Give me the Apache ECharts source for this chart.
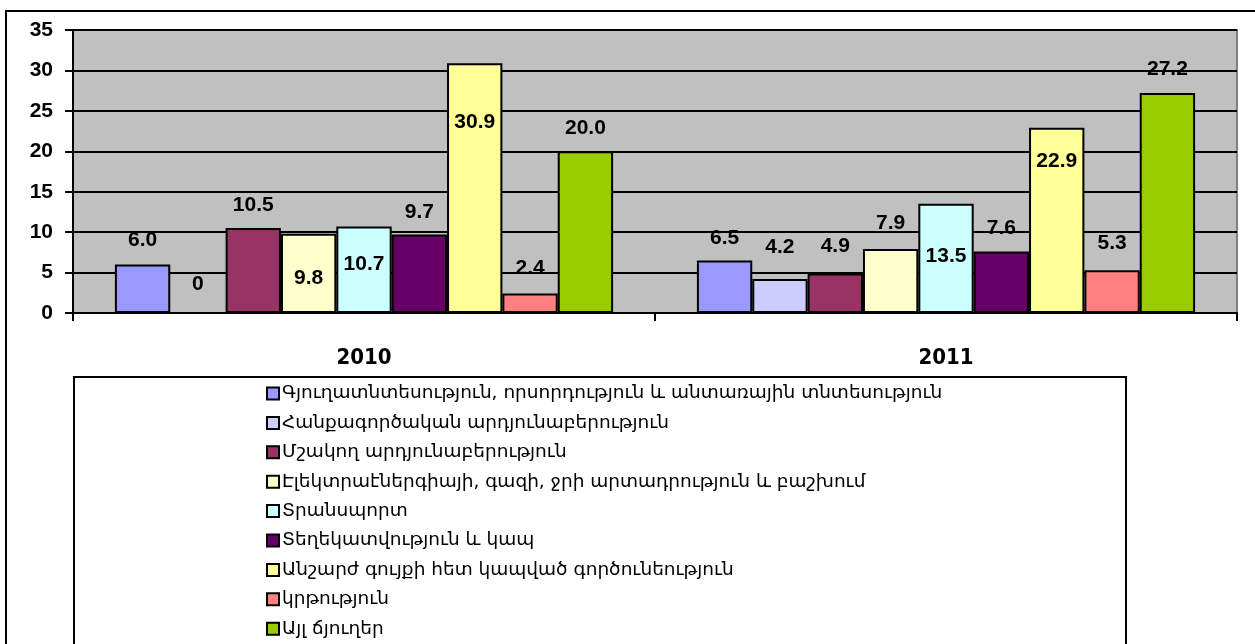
<!DOCTYPE html>
<html>
<head>
<meta charset="utf-8">
<script src="https://cdn.jsdelivr.net/npm/echarts@6/dist/echarts.min.js"></script>
<style>
  html, body { margin: 0; padding: 0; background: #fff; }
  #chart { width: 1255px; height: 644px; }
</style>
</head>
<body>
<div id="chart"></div>
<script>
let chart = echarts.init(document.querySelector('#chart'));

// data
let years = ['2010', '2011'];
let sectorNames = [
  'Գյուղատնտեսություն, որսորդություն և անտառային տնտեսություն',
  'Հանքագործական արդյունաբերություն',
  'Մշակող արդյունաբերություն',
  'Էլեկտրաէներգիայի, գազի, ջրի արտադրություն և բաշխում',
  'Տրանսպորտ',
  'Տեղեկատվություն և կապ',
  'Անշարժ գույքի հետ կապված գործունեություն',
  'կրթություն',
  'Այլ ճյուղեր'
];
let values2010 = [6.0, 0, 10.5, 9.8, 10.7, 9.7, 30.9, 2.4, 20.0];
let values2011 = [6.5, 4.2, 4.9, 7.9, 13.5, 7.6, 22.9, 5.3, 27.2];
let yTicks = { min: 0, max: 35, step: 5 };

// styles
let colors = ['#9999FF', '#CCCCFF', '#993366', '#FFFFCC', '#CCFFFF', '#660066', '#FFFF99', '#FF8080', '#99CC00'];
// vertical shift of each value label (2010, 2011), as in the original picture
let labelShift = [
  [-10, -8], [-14, -18], [-9, -13], [58, -12], [52, 66],
  [-8, -9], [73, 47], [-11, -13], [-9, -10]
];

let series = sectorNames.map((name, i) => {
  let vals = [values2010[i], values2011[i]];
  return {
    name: name,
    type: 'bar',
    barGap: '0%',
    barCategoryGap: '14.4%',
    itemStyle: { color: colors[i], borderColor: '#000', borderWidth: 2 },
    data: vals.map((v, j) => ({
      value: v,
      label: { offset: [0, labelShift[i][j]] }
    })),
    label: {
      show: true,
      position: 'top',
      distance: 5,
      color: '#000',
      fontFamily: 'Liberation Sans, Arial',
      fontWeight: 'bold',
      fontSize: 21,
      lineHeight: 18,
      formatter: p => p.value === 0 ? '0' : p.value.toFixed(1)
    }
  };
});

let option = {
  animation: false,
  grid: {
    left: 73, right: 18, top: 30, bottom: 331,
    show: true,
    backgroundColor: '#C0C0C0',
    borderColor: '#808080',
    borderWidth: 2
  },
  xAxis: {
    type: 'category',
    data: years,
    axisLine: { lineStyle: { color: '#000', width: 2 } },
    axisTick: { show: true, length: 8, lineStyle: { color: '#000', width: 2 } },
    axisLabel: {
      margin: 34,
      color: '#000',
      fontFamily: 'DejaVu Sans Condensed, DejaVu Sans',
      fontWeight: 'bold',
      fontSize: 22
    }
  },
  yAxis: {
    type: 'value',
    min: yTicks.min,
    max: yTicks.max,
    interval: yTicks.step,
    axisLine: { show: true, lineStyle: { color: '#000', width: 2 } },
    axisTick: { show: true, length: 8, lineStyle: { color: '#000', width: 2 } },
    splitLine: { lineStyle: { color: '#000', width: 2 } },
    axisLabel: {
      margin: 20,
      color: '#000',
      fontFamily: 'Liberation Sans, Arial',
      fontWeight: 'bold',
      fontSize: 21
    }
  },
  legend: {
    orient: 'vertical',
    left: 261,
    top: 379,
    height: 400,
    icon: 'rect',
    itemWidth: 12,
    itemHeight: 12,
    itemGap: 10.4,
    itemStyle: { borderColor: '#000', borderWidth: 2 },
    textStyle: {
      color: '#000',
      fontFamily: 'DejaVu Sans',
      fontSize: 18.5,
      lineHeight: 18,
      padding: [0, 0, 0, -2]
    },
    data: sectorNames
  },
  graphic: [
    {
      type: 'rect',
      shape: { x: 6, y: 11, width: 1256, height: 700 },
      style: { fill: null, stroke: '#000', lineWidth: 2 },
      z: -1
    },
    {
      type: 'rect',
      shape: { x: 74, y: 377, width: 1052, height: 300 },
      style: { fill: null, stroke: '#000', lineWidth: 2 }
    }
  ],
  series: series
};

chart.setOption(option);
</script>
</body>
</html>
